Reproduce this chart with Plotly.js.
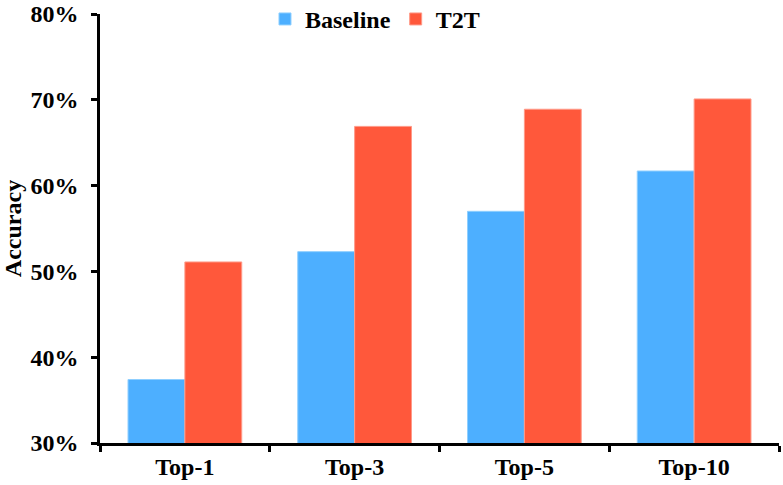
<!DOCTYPE html>
<html>
<head>
<meta charset="utf-8">
<script src="https://cdn.plot.ly/plotly-3.0.1.min.js"></script>
<style>
  html, body { margin: 0; padding: 0; background: #fff; }
  #graph { width: 783px; height: 485px; }
</style>
</head>
<body>
<div id="graph"></div>
<script>
var categories = ['Top-1', 'Top-3', 'Top-5', 'Top-10'];
var baseline = [37.4, 52.3, 57.0, 61.7];
var t2t = [51.1, 66.9, 68.9, 70.1];
var yTicks = [30, 40, 50, 60, 70, 80];
var yTickText = ['30%', '40%', '50%', '60%', '70%', '80%'];

var font = {family: 'Liberation Serif, Times New Roman, serif', size: 24, color: '#000'};

var data = [
  {x: categories, y: baseline, name: '<b>Baseline</b>', type: 'bar',
   marker: {color: '#4DAFFF', line: {color: '#8fcfff', width: 1}}},
  {x: categories, y: t2t, name: '<b>T2T</b>', type: 'bar',
   marker: {color: '#FF583B', line: {color: '#ff9a88', width: 1}}}
];

var layout = {
  width: 783, height: 485,
  margin: {l: 100, r: 4, t: 14, b: 42, autoexpand: false},
  paper_bgcolor: '#fff', plot_bgcolor: '#fff',
  font: font,
  barmode: 'group',
  bargap: 0.33,
  bargroupgap: 0,
  showlegend: true,
  legend: {orientation: 'h', x: 0.405, xanchor: 'center', y: 1.04, yanchor: 'top',
           font: font, itemwidth: 20, bgcolor: 'rgba(0,0,0,0)'},
  xaxis: {
    type: 'category', tickson: 'boundaries', automargin: false,
    showline: true, linecolor: '#000', linewidth: 2.5,
    ticks: 'outside', ticklen: 6, tickwidth: 2.5, tickcolor: '#000',
    tickfont: font, showgrid: false, zeroline: false,
    ticklabeloverflow: 'allow',
    tickprefix: '<b>', ticksuffix: '</b>'
  },
  yaxis: {
    range: [30, 80], tickvals: yTicks, automargin: false,
    ticktext: yTickText.map(function (t) { return '<b>' + t + '</b>'; }),
    showline: true, linecolor: '#000', linewidth: 2.5,
    ticks: 'outside', ticklen: 6, tickwidth: 2.5, tickcolor: '#000',
    tickfont: font, showgrid: false, zeroline: false, ticklabelstandoff: 8,
    ticklabeloverflow: 'allow',
    title: {text: '<b>Accuracy</b>', font: font, standoff: 12}
  }
};

Plotly.newPlot('graph', data, layout, {displayModeBar: false});
</script>
</body>
</html>
